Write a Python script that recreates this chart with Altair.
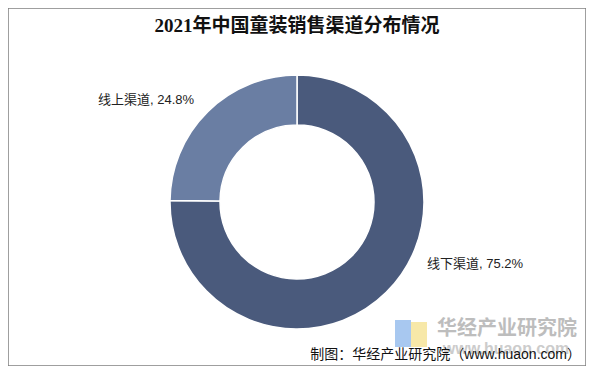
import altair as alt
import pandas as pd

# Data
categories = ["线下渠道", "线上渠道"]
shares = [75.2, 24.8]
colors = ["#4A5A7C", "#6A7EA3"]
title_text = "2021年中国童装销售渠道分布情况"
source_text = "制图：华经产业研究院（www.huaon.com）"
watermark_name = "华经产业研究院"
watermark_url = "www.huaon.com"

df = pd.DataFrame({
    "category": categories,
    "share": shares,
    "order": list(range(len(categories))),
})
df["label"] = [f"{c}, {v:.1f}%" for c, v in zip(categories, shares)]

W, H = 578, 358
CX, CY = 289, 194

base = alt.Chart(df)

donut = base.mark_arc(radius=127, innerRadius=77, stroke="white", strokeWidth=1.5).encode(
    theta=alt.Theta("share:Q", stack=True),
    color=alt.Color("category:N", scale=alt.Scale(domain=categories, range=colors), legend=None),
    order=alt.Order("order:Q"),
    x=alt.value(CX),
    y=alt.value(CY),
)

label_font = "Liberation Sans, Noto Sans CJK SC"

lab_online = base.transform_filter(alt.datum.category == "线上渠道").mark_text(
    align="left", baseline="middle", fontSize=13, font=label_font, color="#222222"
).encode(text="label:N", x=alt.value(90), y=alt.value(92))

lab_offline = base.transform_filter(alt.datum.category == "线下渠道").mark_text(
    align="left", baseline="middle", fontSize=13, font=label_font, color="#222222"
).encode(text="label:N", x=alt.value(419), y=alt.value(256))

one = pd.DataFrame({"t": [title_text], "s": [source_text], "w": [watermark_name], "u": [watermark_url]})
ob = alt.Chart(one)

title = ob.mark_text(
    align="center", baseline="middle", fontSize=19, fontWeight="bold",
    font="Liberation Serif, Noto Sans CJK SC", color="#111111"
).encode(text="t:N", x=alt.value(289), y=alt.value(18))

logo_blue = ob.mark_rect(color="#A8C8F0").encode(
    x=alt.value(387), x2=alt.value(403), y=alt.value(312), y2=alt.value(339))
logo_yellow = ob.mark_rect(color="#F7E8A8").encode(
    x=alt.value(403), x2=alt.value(419), y=alt.value(314), y2=alt.value(339))

wm_name = ob.mark_text(
    align="left", baseline="middle", fontSize=20, fontWeight="bold",
    font="Noto Sans CJK SC", color="#BDBDBD"
).encode(text="w:N", x=alt.value(429), y=alt.value(321))

wm_url = ob.mark_text(
    align="center", baseline="middle", fontSize=16, fontWeight="bold",
    font="Liberation Sans", color="#CCCCCC"
).encode(text="u:N", x=alt.value(498), y=alt.value(341))

source = ob.mark_text(
    align="right", baseline="middle", fontSize=14,
    font="Liberation Sans, Noto Sans CJK SC", color="#111111"
).encode(text="s:N", x=alt.value(573), y=alt.value(347))

chart = alt.layer(
    donut, lab_online, lab_offline, title, logo_blue, logo_yellow, wm_name, wm_url, source
).properties(
    width=W, height=H, padding=0, autosize=alt.AutoSizeParams(type="none"),
    background="white",
).configure_view(stroke="#808080", strokeWidth=1.5)

chart.save("out.html", embed_options={"renderer": "svg", "actions": False})
